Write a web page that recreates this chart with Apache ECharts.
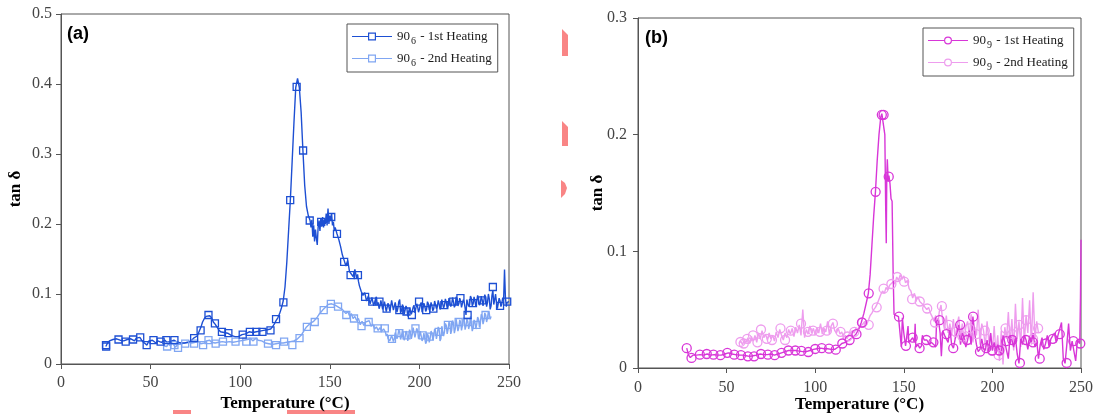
<!DOCTYPE html>
<html>
<head>
<meta charset="utf-8">
<script src="https://cdn.jsdelivr.net/npm/echarts@6/dist/echarts.min.js"></script>
<style>html,body{margin:0;padding:0;background:#fff;}#c{width:1094px;height:414px;}</style>
</head>
<body>
<div id="c"></div>
<script>
// ---------- DATA ----------
const xTicks = [0, 50, 100, 150, 200, 250];
const yTicksA = [0, 0.1, 0.2, 0.3, 0.4, 0.5];
const yTicksB = [0, 0.1, 0.2, 0.3];
const legendA = ['90|6| - 1st Heating', '90|6| - 2nd Heating'];
const legendB = ['90|9| - 1st Heating', '90|9| - 2nd Heating'];

// (a) 90_6 - 1st Heating : [temperature, tan delta]
const a1Line = [[25,0.025],[26,0.030],[27,0.033],[28,0.034],[29,0.035],[30,0.034],[31,0.036],[32,0.035],[33,0.034],[34,0.036],[35,0.033],[36,0.032],[37,0.035],[38,0.034],[39,0.036],[40,0.035],[41,0.033],[42,0.037],[43,0.036],[44,0.038],[45,0.034],[46,0.031],[47,0.030],[48,0.027],[49,0.033],[50,0.031],[51,0.034],[52,0.033],[53,0.030],[54,0.033],[55,0.032],[56,0.031],[57,0.033],[58,0.034],[59,0.031],[60,0.033],[61,0.032],[62,0.034],[63,0.034],[64,0.032],[65,0.031],[66,0.032],[67,0.030],[68,0.031],[69,0.030],[70,0.032],[71,0.031],[72,0.033],[73,0.034],[74,0.037],[75,0.036],[76,0.040],[77,0.046],[78,0.052],[79,0.060],[80,0.065],[81,0.068],[82,0.070],[83,0.069],[84,0.066],[85,0.060],[86,0.057],[87,0.053],[88,0.049],[89,0.046],[90,0.044],[91,0.045],[92,0.043],[93,0.044],[94,0.042],[95,0.041],[96,0.040],[97,0.039],[98,0.040],[99,0.039],[100,0.040],[101,0.042],[102,0.041],[103,0.043],[104,0.044],[105,0.046],[106,0.044],[107,0.045],[108,0.047],[109,0.046],[110,0.045],[111,0.047],[112,0.046],[113,0.048],[114,0.047],[115,0.049],[116,0.050],[117,0.050],[118,0.053],[119,0.057],[120,0.062],[121,0.066],[122,0.072],[123,0.080],[124,0.090],[125,0.110],[126,0.145],[127,0.190],[128,0.235],[129,0.290],[130,0.345],[131,0.395],[132,0.408],[133,0.395],[134,0.360],[135,0.305],[136,0.255],[137,0.225],[138,0.212],[139,0.205],[139.5,0.195],[140,0.206],[140.5,0.182],[141,0.198],[141.5,0.175],[142,0.192],[142.5,0.180],[143,0.170],[143.5,0.196],[144,0.205],[144.5,0.190],[145,0.208],[145.5,0.196],[146,0.210],[146.5,0.195],[147,0.206],[147.5,0.200],[148,0.215],[148.5,0.198],[149,0.222],[149.5,0.200],[150,0.212],[150.5,0.205],[151,0.215],[151.5,0.198],[152,0.203],[152.5,0.190],[153,0.195],[154,0.186],[155,0.178],[156,0.168],[157,0.156],[158,0.148],[159,0.140],[160,0.148],[161,0.132],[162,0.130],[163,0.125],[164,0.135],
[165,0.122],[165.5,0.128],[166,0.118],[166.5,0.112],[167,0.110],[167.5,0.104],[168,0.105],[168.5,0.098],[169,0.096],[169.5,0.102],[170,0.100],[170.5,0.090],[171,0.092],[171.5,0.097],[172,0.098],[172.5,0.086],[173,0.088],[173.5,0.095],[174,0.094],[174.5,0.083],[175,0.085],[175.5,0.093],[176,0.096],[176.5,0.084],[177,0.088],[177.5,0.079],[178,0.083],[178.5,0.091],[179,0.092],[179.5,0.078],[180,0.080],[180.5,0.089],[181,0.088],[181.5,0.075],[182,0.077],[182.5,0.087],[183,0.085],[183.5,0.076],[184,0.082],[184.5,0.091],[185,0.090],[185.5,0.077],[186,0.078],[186.5,0.088],[187,0.086],[187.5,0.074],[188,0.080],[188.5,0.089],[189,0.092],[189.5,0.073],[190,0.076],[190.5,0.085],[191,0.082],[191.5,0.071],[192,0.073],[192.5,0.083],[193,0.080],[193.5,0.068],[194,0.070],[194.5,0.080],[195,0.078],[195.5,0.071],[196,0.072],[196.5,0.081],[197,0.084],[197.5,0.073],[198,0.075],[198.5,0.086],[199,0.082],[199.5,0.074],[200,0.078],[200.5,0.085],[201,0.088],[201.5,0.074],[202,0.076],[202.5,0.087],[203,0.083],[203.5,0.075],[204,0.078],[204.5,0.089],[205,0.086],[205.5,0.077],[206,0.080],[206.5,0.088],[207,0.083],[207.5,0.076],[208,0.079],[208.5,0.090],[209,0.088],[209.5,0.079],[210,0.082],[210.5,0.091],[211,0.086],[211.5,0.078],[212,0.081],[212.5,0.092],[213,0.090],[213.5,0.080],[214,0.084],[214.5,0.093],[215,0.088],[215.5,0.080],[216,0.083],[216.5,0.094],[217,0.092],[217.5,0.082],[218,0.085],[218.5,0.095],[219,0.089],[219.5,0.081],[220,0.084],[220.5,0.096],[221,0.093],[221.5,0.083],[222,0.086],[222.5,0.094],[223,0.090],[223.5,0.081],[224,0.082],[224.5,0.092],[225,0.088],[225.5,0.080],[226,0.070],[226.5,0.092],[227,0.090],[227.5,0.082],[228,0.085],[228.5,0.097],[229,0.094],[229.5,0.083],[230,0.086],[230.5,0.096],[231,0.090],[231.5,0.082],[232,0.084],[232.5,0.098],[233,0.096],[233.5,0.084],[234,0.087],[234.5,0.097],[235,0.092],[235.5,0.083],[236,0.085],[236.5,0.099],[237,0.095],[237.5,0.082],[238,0.088],[238.5,0.100],[239,0.093],[239.5,0.078],[240,0.083],[240.5,0.098],[241,0.105],[241.5,0.085],[242,0.092],[242.5,0.100],[243,0.088],[243.5,0.079],[244,0.080],[244.5,0.094],[245,0.090],[245.5,0.082],[246,0.086],[246.5,0.095],[247,0.092],[247.5,0.135],[248,0.095],[248.5,0.082],[249,0.088],[250,0.089]];
const a1Marks = [[25.1,0.027],[25.2,0.025],[32.1,0.035],[36.1,0.032],[40.2,0.035],[44.2,0.038],[47.8,0.027],[51.6,0.034],[55.6,0.032],[58.8,0.034],[63.3,0.034],[74.3,0.037],[77.9,0.048],[82.3,0.070],[85.9,0.058],[89.8,0.046],[93.4,0.044],[101.4,0.042],[105.4,0.046],[109,0.046],[112.4,0.046],[116.9,0.048],[120,0.064],[124.1,0.088],[127.9,0.234],[131.5,0.396],[135.1,0.305],[138.8,0.205],[145.2,0.203],[150.8,0.210],[154,0.186],[158,0.146],[161.6,0.127],[165.7,0.127],[169.7,0.096],[173.7,0.089],[177.7,0.089],[181.7,0.079],[188.8,0.077],[192.8,0.075],[195.8,0.070],[199.8,0.089],[203.8,0.077],[207.8,0.079],[213.9,0.084],[218.9,0.089],[222.9,0.094],[226.9,0.070],[229.9,0.087],[235,0.091],[241,0.110],[245,0.083],[249,0.089]];

// (a) 90_6 - 2nd Heating
const a2Line = [[57,0.026],[58,0.028],[59,0.025],[60,0.029],[61,0.026],[62,0.030],[63,0.027],[64,0.024],[65,0.028],[66,0.026],[67,0.029],[68,0.027],[69,0.030],[70,0.028],[71,0.031],[72,0.029],[73,0.030],[74,0.028],[75,0.031],[76,0.030],[77,0.032],[78,0.029],[79,0.031],[80,0.030],[81,0.033],[82,0.032],[83,0.034],[84,0.031],[85,0.033],[86,0.030],[87,0.032],[88,0.031],[89,0.033],[90,0.032],[91,0.034],[92,0.031],[93,0.033],[94,0.032],[95,0.034],[96,0.031],[97,0.033],[98,0.032],[99,0.034],[100,0.033],[101,0.032],[102,0.034],[103,0.032],[104,0.035],[105,0.033],[106,0.036],[107,0.033],[108,0.035],[109,0.037],[110,0.034],[111,0.036],[112,0.033],[113,0.032],[114,0.030],[115,0.031],[116,0.029],[117,0.031],[118,0.028],[119,0.030],[120,0.029],[121,0.031],[122,0.030],[123,0.032],[124,0.030],[125,0.029],[126,0.031],[127,0.030],[128,0.032],[129,0.031],[130,0.033],[131,0.034],[132,0.036],[133,0.038],[134,0.041],[135,0.045],[136,0.049],[137,0.053],[138,0.055],[139,0.058],[140,0.060],[141,0.061],[142,0.064],[143,0.067],[144,0.071],[145,0.074],[146,0.077],[147,0.079],[148,0.082],[149,0.085],[150,0.087],[151,0.086],[152,0.088],[153,0.084],[154,0.085],[155,0.081],[156,0.083],[157,0.078],[158,0.080],[159,0.072],[160,0.075],[161,0.069],[162,0.072],[163,0.065],[164,0.068],[165,0.062],[166,0.065],[167,0.056],[168,0.061],[169,0.055],[170,0.060],[171,0.058],[172,0.062],[173,0.054],[174,0.057],[175,0.050],[176,0.053],[177,0.048],[178,0.052],[179,0.047],[180,0.050],
[181,0.046],[181.5,0.040],[182,0.043],[182.5,0.036],[183,0.038],[183.5,0.033],[184,0.035],[184.5,0.041],[185,0.040],[185.5,0.032],[186,0.036],[186.5,0.045],[187,0.045],[187.5,0.036],[188,0.041],[188.5,0.049],[189,0.046],[189.5,0.035],[190,0.040],[190.5,0.048],[191,0.047],[191.5,0.034],[192,0.038],[192.5,0.047],[193,0.044],[193.5,0.033],[194,0.040],[194.5,0.049],[195,0.046],[195.5,0.036],[196,0.042],[196.5,0.052],[197,0.050],[197.5,0.038],[198,0.044],[198.5,0.051],[199,0.048],[199.5,0.036],[200,0.040],[200.5,0.047],[201,0.045],[201.5,0.033],[202,0.036],[202.5,0.044],[203,0.042],[203.5,0.029],[204,0.032],[204.5,0.043],[205,0.040],[205.5,0.031],[206,0.037],[206.5,0.047],[207,0.044],[207.5,0.034],[208,0.040],[208.5,0.050],[209,0.047],[209.5,0.036],[210,0.043],[210.5,0.053],[211,0.050],[211.5,0.033],[212,0.036],[212.5,0.054],[213,0.052],[213.5,0.040],[214,0.046],[214.5,0.058],[215,0.055],[215.5,0.043],[216,0.049],[216.5,0.060],[217,0.057],[217.5,0.043],[218,0.048],[218.5,0.062],[219,0.059],[219.5,0.044],[220,0.050],[220.5,0.064],[221,0.062],[221.5,0.047],[222,0.052],[222.5,0.063],[223,0.060],[223.5,0.048],[224,0.055],[224.5,0.066],[225,0.063],[225.5,0.049],[226,0.054],[226.5,0.064],[227,0.061],[227.5,0.050],[228,0.056],[228.5,0.068],[229,0.066],[229.5,0.047],[230,0.052],[230.5,0.063],[231,0.060],[231.5,0.050],[232,0.057],[232.5,0.067],[233,0.064],[233.5,0.053],[234,0.058],[234.5,0.071],[235,0.068],[235.5,0.057],[236,0.062],[236.5,0.073],[237,0.070],[237.5,0.060],[238,0.066],[238.5,0.075],[239,0.072],[239.5,0.064],[240,0.068]];
const a2Marks = [[59.2,0.025],[63.3,0.027],[65.3,0.023],[69.3,0.029],[74.3,0.029],[79.3,0.027],[82.3,0.034],[86.3,0.029],[90.4,0.032],[97.4,0.032],[103.4,0.032],[107.4,0.032],[115.5,0.029],[120,0.027],[124.5,0.032],[129.1,0.027],[133.1,0.037],[137.2,0.053],[141.6,0.060],[146.6,0.077],[150.6,0.086],[154.6,0.082],[159.2,0.070],[163.5,0.065],[167.7,0.054],[171.7,0.060],[176.7,0.051],[180.7,0.051],[184.7,0.036],[188.8,0.044],[192.8,0.041],[197.8,0.051],[201.8,0.041],[205.8,0.039],[210.8,0.046],[215.9,0.056],[221.9,0.060],[226.9,0.060],[231.9,0.056],[236.9,0.070]];

// (b) 90_9 - 1st Heating
const b1Line = [[27.5,0.017],[28.5,0.011],[29.5,0.009],[31,0.011],[33,0.011],[35,0.0115],[37,0.011],[39,0.012],[41,0.011],[43,0.0115],[45,0.011],[47,0.011],[49,0.012],[51,0.013],[53,0.012],[55,0.0115],[57,0.011],[59,0.011],[61,0.0105],[63,0.010],[65,0.0105],[67,0.011],[69,0.012],[71,0.0115],[73,0.0115],[75,0.012],[77,0.011],[79,0.012],[81,0.013],[83,0.014],[85,0.015],[87,0.015],[89,0.015],[91,0.0145],[93,0.014],[95,0.014],[97,0.015],[99,0.016],[101,0.0165],[103,0.017],[105,0.0165],[107,0.0165],[109,0.016],[111,0.016],[113,0.018],[115,0.021],[117,0.022],[119,0.024],[121,0.026],[123,0.029],[124.5,0.033],[126,0.039],[127.5,0.047],[129,0.057],[130,0.064],[131,0.080],[132,0.105],[133,0.130],[134,0.151],[135,0.178],[136,0.200],[137,0.215],[137.6,0.218],[138.6,0.217],[139.3,0.200],[139.8,0.135],[140.1,0.107],[140.4,0.165],[140.7,0.179],[141.2,0.160],[141.6,0.165],[142.2,0.158],[142.8,0.145],[143.4,0.143],[144,0.080],[144.5,0.046],[145.5,0.045],[147,0.044],[148,0.043],[148.6,0.018],[149.2,0.043],[150,0.030],[151,0.019],[152,0.019],[152.4,0.036],[152.8,0.022],[154,0.024],[155,0.026],[156,0.022],[156.4,0.038],[156.8,0.018],[158,0.020],[159,0.017],[160,0.019],[160.5,0.028],[161.5,0.024],[163,0.024],[164.5,0.020],[165.5,0.022],[167,0.020],[168,0.018],[168.5,0.040],[169.5,0.042],[170.5,0.030],[171.2,0.010],[172,0.032],[173,0.028],[174,0.029],[175,0.022],[176,0.034],[177,0.020],[178,0.017],[179,0.025],[180,0.030],[181,0.037],[182,0.020],[183,0.030],[184,0.026],[185,0.018],[186,0.024],[187,0.032],[188,0.020],[189,0.044],[190,0.030],[191,0.020],[192,0.014],[193,0.016],[194,0.025],[195,0.017],[196,0.015],[197,0.024],[198,0.014],[199,0.030],[200,0.015],[201,0.022],[202,0.013],[203,0.020],[204,0.015],[205,0.012],[206,0.028],[207,0.022],[208,0.023],[209,0.008],[210,0.028],[211,0.024],[212,0.018],[213,0.026],[214,0.012],[215,0.004],[216,0.025],[217,0.020],[218,0.028],[219,0.024],[220,0.016],[221,0.026],[222,0.022],[223,0.030],[224,0.018],[225,0.024],[226,0.008],[227,0.020],[228,0.026],[229,0.016],[230,0.021],[231,0.028],[232,0.018],[233,0.025],[234,0.024],[235,0.030],[236,0.022],[237,0.028],[238,0.029],[239,0.039],[240,0.008],[241,0.004],[242,0.020],[243,0.038],[244,0.015],[245,0.023],[246,0.022],[247,0.006],[248,0.024],[249.3,0.021],[249.7,0.060],[250,0.110]];
const b1Marks = [[27.5,0.017],[30.2,0.0086],[34.9,0.0114],[38.8,0.012],[42.6,0.0114],[46.5,0.011],[50.4,0.013],[54.3,0.0114],[58.1,0.011],[62,0.010],[65.5,0.010],[69.4,0.012],[73.3,0.0114],[77.1,0.011],[81,0.013],[84.9,0.015],[88.8,0.015],[92.2,0.0146],[96.1,0.0137],[100,0.0163],[103.7,0.017],[107.8,0.0166],[111.6,0.0157],[115.3,0.021],[119.4,0.024],[123.3,0.029],[126.4,0.039],[130.2,0.064],[134.1,0.151],[137.6,0.217],[138.6,0.217],[141.5,0.164],[147.3,0.044],[151.2,0.019],[155,0.026],[158.9,0.017],[162.8,0.024],[166.7,0.022],[170.2,0.041],[174,0.029],[177.9,0.017],[181.8,0.037],[185.7,0.024],[189.1,0.044],[193,0.014],[196.5,0.017],[200,0.015],[203.9,0.015],[207.8,0.023],[211.2,0.024],[215.5,0.0043],[219,0.024],[222.9,0.022],[226.7,0.008],[230.2,0.021],[234.1,0.025],[238,0.029],[241.9,0.0043],[245.7,0.023],[249.6,0.021]];

// (b) 90_9 - 2nd Heating
const b2Line = [[57,0.021],[58,0.023],[59,0.020],[60,0.024],[61,0.022],[62,0.026],[63,0.021],[64,0.027],[65,0.023],[66,0.028],[67,0.022],[68,0.030],[69,0.025],[70,0.032],[71,0.026],[72,0.029],[73,0.024],[74,0.030],[75,0.025],[76,0.028],[77,0.023],[78,0.031],[79,0.026],[80,0.033],[81,0.028],[82,0.024],[83,0.030],[84,0.026],[85,0.033],[86,0.029],[87,0.034],[88,0.027],[89,0.035],[90,0.030],[91,0.037],[92,0.028],[93,0.050],[94,0.026],[95,0.033],[96,0.029],[97,0.036],[98,0.030],[99,0.034],[100,0.028],[101,0.035],[102,0.030],[103,0.038],[104,0.029],[105,0.034],[106,0.031],[107,0.040],[108,0.029],[109,0.036],[110,0.039],[111,0.032],[112,0.030],[113,0.034],[114,0.029],[115,0.031],[116,0.026],[117,0.028],[118,0.025],[119,0.029],[120,0.028],[121,0.032],[122,0.030],[123,0.034],[124,0.032],[125,0.035],[126,0.036],[127,0.038],[128,0.040],[129,0.037],[130,0.041],[131,0.045],[132,0.047],[133,0.050],[134,0.052],[135,0.055],[136,0.059],[137,0.063],[138,0.066],[139,0.064],[140,0.069],[141,0.067],[142,0.071],[143,0.070],[144,0.074],[145,0.072],[146,0.078],[147,0.075],[148,0.080],[149,0.076],[150,0.079],[151,0.073],[152,0.075],[153,0.068],[154,0.066],[155,0.060],[156,0.064],[157,0.058],[158,0.061],[159,0.057],[160,0.058],[161,0.054],[162,0.055],[163,0.050],[164,0.052],[165,0.047],[166,0.044],[167,0.040],[168,0.045],[169,0.035],[170,0.048],[171,0.054],[172,0.040],[173,0.033],[174,0.045],[175,0.030],[176,0.038],[177,0.028],[178,0.042],[179,0.025],[180,0.036],[181,0.044],[182,0.026],[183,0.038],[184,0.022],[185,0.035],[186,0.040],[187,0.027],[188,0.046],[189,0.022],[190,0.035],[191,0.028],[192,0.050],[193,0.020],[194,0.038],[195,0.032],[196,0.018],[197,0.040],[198,0.022],[199,0.030],[200,0.015],[201,0.036],[202,0.012],[203,0.028],[204,0.006],[205,0.032],[206,0.003],[207,0.035],[208,0.025],[209,0.048],[210,0.020],[211,0.042],[212,0.015],[213,0.055],[214,0.025],[215,0.040],[216,0.018],[217,0.060],[218,0.022],[219,0.045],[220,0.030],[221,0.058],[222,0.020],[223,0.065],[224,0.025],[225,0.040],[226,0.030]];
const b2Marks = [[57.8,0.0223],[59.7,0.021],[61.6,0.025],[64.9,0.028],[67.4,0.022],[69.4,0.033],[72.7,0.025],[75.6,0.024],[80.4,0.034],[83,0.024],[86.2,0.032],[92,0.038],[95.9,0.031],[98.8,0.032],[102.7,0.031],[106.6,0.032],[110,0.038],[114.3,0.031],[118.2,0.027],[122.1,0.031],[126.6,0.0386],[130.2,0.037],[134.7,0.052],[138.6,0.068],[143,0.072],[146.3,0.078],[150.2,0.074],[154.7,0.059],[159,0.057],[163.2,0.051],[167.6,0.039],[171.5,0.053],[175.4,0.037],[179.3,0.031],[183.1,0.027],[187,0.034],[190.9,0.029],[195.7,0.032],[199.6,0.015],[203.5,0.011],[207.4,0.034],[211.2,0.029],[215.1,0.037],[219,0.041],[222.9,0.025],[225.8,0.034]];

// ---------- STYLE ----------
const C_A1 = '#1D4FD3', C_A2 = '#80A6F2', C_B1 = '#D836D8', C_B2 = '#EE9DEE';
const SERIF = 'Liberation Serif';
const sqIcon = 'path://M0 4.4H16V5.6H0Z M24 4.4H40V5.6H24Z M16 1H24V9H16Z M17.2 2.2V7.8H22.8V2.2Z';
const ciIcon = 'path://M0 4.4H16V5.6H0Z M24 4.4H40V5.6H24Z M20 1A4 4 0 1 1 20 9A4 4 0 1 1 20 1Z M20 2.2A2.8 2.8 0 1 0 20 7.8A2.8 2.8 0 1 0 20 2.2Z';

function legendFmt(name) {
  const p = name.split('|');
  return '{m|' + p[0] + '}{s|' + p[1] + '}{m|' + p[2] + '}';
}
const legendRich = {
  m: { fontFamily: SERIF, fontSize: 13, color: '#1a1a1a' },
  s: { fontFamily: SERIF, fontSize: 10, color: '#1a1a1a', padding: [9, 1, 0, 1] }
};

function xAxisOf(gi, gap, lm) {
  return {
    type: 'value', gridIndex: gi, min: 0, max: 250, interval: 50,
    name: 'Temperature (°C)', nameLocation: 'middle', nameGap: gap, nameMoveOverlap: false,
    nameTextStyle: { fontFamily: SERIF, fontSize: 17, fontWeight: 'bold', color: '#000' },
    axisLine: { lineStyle: { color: '#555', width: 1 } },
    axisTick: { show: true, length: 5, lineStyle: { color: '#555' } },
    axisLabel: { fontFamily: SERIF, fontSize: 16, color: '#444', margin: lm },
    splitLine: { show: false }
  };
}
function yAxisOf(gi, max, gap, lm) {
  return {
    type: 'value', gridIndex: gi, min: 0, max: max, interval: 0.1,
    name: 'tan δ', nameLocation: 'middle', nameGap: gap, nameMoveOverlap: false,
    nameTextStyle: { fontFamily: SERIF, fontSize: 17, fontWeight: 'bold', color: '#000' },
    axisLine: { show: true, lineStyle: { color: '#555', width: 1 } },
    axisTick: { show: true, length: 5, lineStyle: { color: '#555' } },
    axisLabel: { fontFamily: SERIF, fontSize: 16, color: '#444', margin: lm },
    splitLine: { show: false }
  };
}
function lineS(name, data, color, xi) {
  return { name: name, type: 'line', xAxisIndex: xi, yAxisIndex: xi, data: data,
    showSymbol: false, symbol: 'none', lineStyle: { color: color, width: 1.4 },
    itemStyle: { color: color }, z: 2, silent: true };
}
function markS(name, data, color, xi, sym, size) {
  return { name: name, type: 'scatter', xAxisIndex: xi, yAxisIndex: xi, data: data,
    symbol: sym, symbolSize: size,
    itemStyle: { color: 'rgba(255,255,255,0)', borderColor: color, borderWidth: 1.3, opacity: 1 },
    z: 3, silent: true };
}

const chart = echarts.init(document.getElementById('c'), null, { renderer: 'canvas' });
chart.setOption({
  animation: false,
  backgroundColor: '#fff',
  grid: [
    { left: 61, top: 14, width: 448, height: 350, show: true, borderColor: '#555', borderWidth: 1, backgroundColor: 'transparent', containLabel: false, outerBoundsMode: 'none' },
    { left: 638, top: 18, width: 443, height: 350, show: true, borderColor: '#555', borderWidth: 1, backgroundColor: 'transparent', containLabel: false, outerBoundsMode: 'none' }
  ],
  xAxis: [xAxisOf(0, 31, 11), xAxisOf(1, 28, 12)],
  yAxis: [yAxisOf(0, 0.5, 37, 9), yAxisOf(1, 0.3, 32, 11)],
  legend: [
    { orient: 'vertical', left: 347, top: 24, itemWidth: 40, itemHeight: 8, itemGap: 6,
      padding: [6, 6, 4, 5], borderColor: '#555', borderWidth: 1, backgroundColor: '#fff',
      selectedMode: false, formatter: legendFmt, textStyle: { rich: legendRich },
      data: [{ name: legendA[0], icon: sqIcon }, { name: legendA[1], icon: sqIcon }] },
    { orient: 'vertical', left: 923, top: 28, itemWidth: 40, itemHeight: 8, itemGap: 6,
      padding: [6, 6, 4, 5], borderColor: '#555', borderWidth: 1, backgroundColor: '#fff',
      selectedMode: false, formatter: legendFmt, textStyle: { rich: legendRich },
      data: [{ name: legendB[0], icon: ciIcon }, { name: legendB[1], icon: ciIcon }] }
  ],
  series: [
    lineS(legendA[1], a2Line, C_A2, 0), markS('a2m', a2Marks, C_A2, 0, 'rect', 7),
    lineS(legendA[0], a1Line, C_A1, 0), markS('a1m', a1Marks, C_A1, 0, 'rect', 7),
    lineS(legendB[1], b2Line, C_B2, 1), markS('b2m', b2Marks, C_B2, 1, 'circle', 9),
    lineS(legendB[0], b1Line, C_B1, 1), markS('b1m', b1Marks, C_B1, 1, 'circle', 9)
  ],
  graphic: [
    { type: 'text', left: 67, top: 25, style: { text: '(a)', fontFamily: 'Liberation Sans', fontWeight: 'bold', fontSize: 18, fill: '#000' } },
    { type: 'text', left: 645, top: 29, style: { text: '(b)', fontFamily: 'Liberation Sans', fontWeight: 'bold', fontSize: 18, fill: '#000' } },
    { type: 'polygon', shape: { points: [[562,29],[568,35],[568,56],[562,56]] }, style: { fill: '#F98585' }, silent: true },
    { type: 'polygon', shape: { points: [[562,121],[568,127],[568,146],[562,146]] }, style: { fill: '#F98585' }, silent: true },
    { type: 'polygon', shape: { points: [[561,180],[565,183],[567,188],[565,194],[561,198]] }, style: { fill: '#F98585' }, silent: true },
    { type: 'rect', shape: { x: 173, y: 410, width: 18, height: 4 }, style: { fill: '#F98585' }, silent: true },
    { type: 'rect', shape: { x: 287, y: 410, width: 68, height: 4 }, style: { fill: '#F98585' }, silent: true }
  ]
});
</script>
</body>
</html>
